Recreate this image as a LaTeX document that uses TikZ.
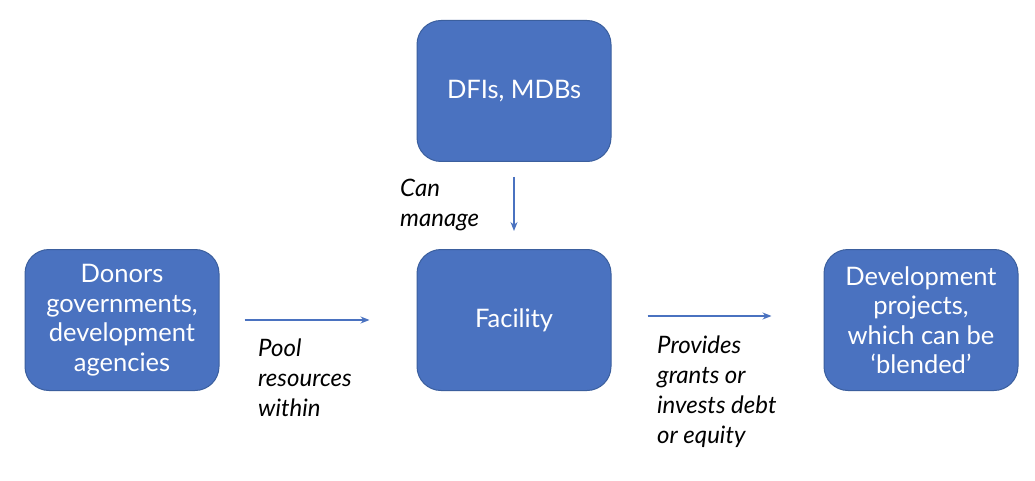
\documentclass[tikz,border=0pt]{standalone}
\usepackage{fontspec}
\setmainfont{Lato}
\usetikzlibrary{arrows.meta}
\definecolor{boxblue}{HTML}{4A72C0}
\definecolor{edgeblue}{HTML}{3B5F9E}
\begin{document}
\begin{tikzpicture}[
        x=1pt, y=-1pt,
        box/.style={rectangle, rounded corners=24pt, draw=edgeblue, line width=1pt, fill=boxblue, text=white, align=center, minimum width=194pt, minimum height=141pt, font=\fontsize{25.5}{29.5}\selectfont},
        note/.style={anchor=north west, align=left, inner sep=0pt, font=\fontsize{24}{30}\selectfont\itshape},
        arrow/.style={draw=boxblue, line width=1.2pt, -{Stealth[length=9pt,width=7pt]}}
    ]
        \useasboundingbox[fill=white] (0,0) rectangle (1035,481);

        \node[box] (dfi) at (514,91) {DFIs, MDBs};
        \node[box] (facility) at (514,320) {Facility};
        \node[box] (donors) at (122,320) {Donors\\governments,\\development\\agencies};
        \node[box] (projects) at (921,320) {Development\\projects,\\which can be\\`blended'};

        \draw[arrow, shorten <=15pt, shorten >=18pt] (dfi) -- (facility);
        \draw[arrow, shorten <=25pt, shorten >=47pt] (donors) -- (facility);
        \draw[arrow, shorten <=36pt, shorten >=52pt] ([yshift=4pt]facility.east) -- ([yshift=4pt]projects.west);

        \node[note] (canlbl) at (400,179) {Can\\manage};
        \node[note] (poollbl) at (258,339) {Pool\\resources\\within};
        \node[note] (provlbl) at (657,336) {Provides\\grants or\\invests debt\\or equity};
    \end{tikzpicture}
\end{document}
